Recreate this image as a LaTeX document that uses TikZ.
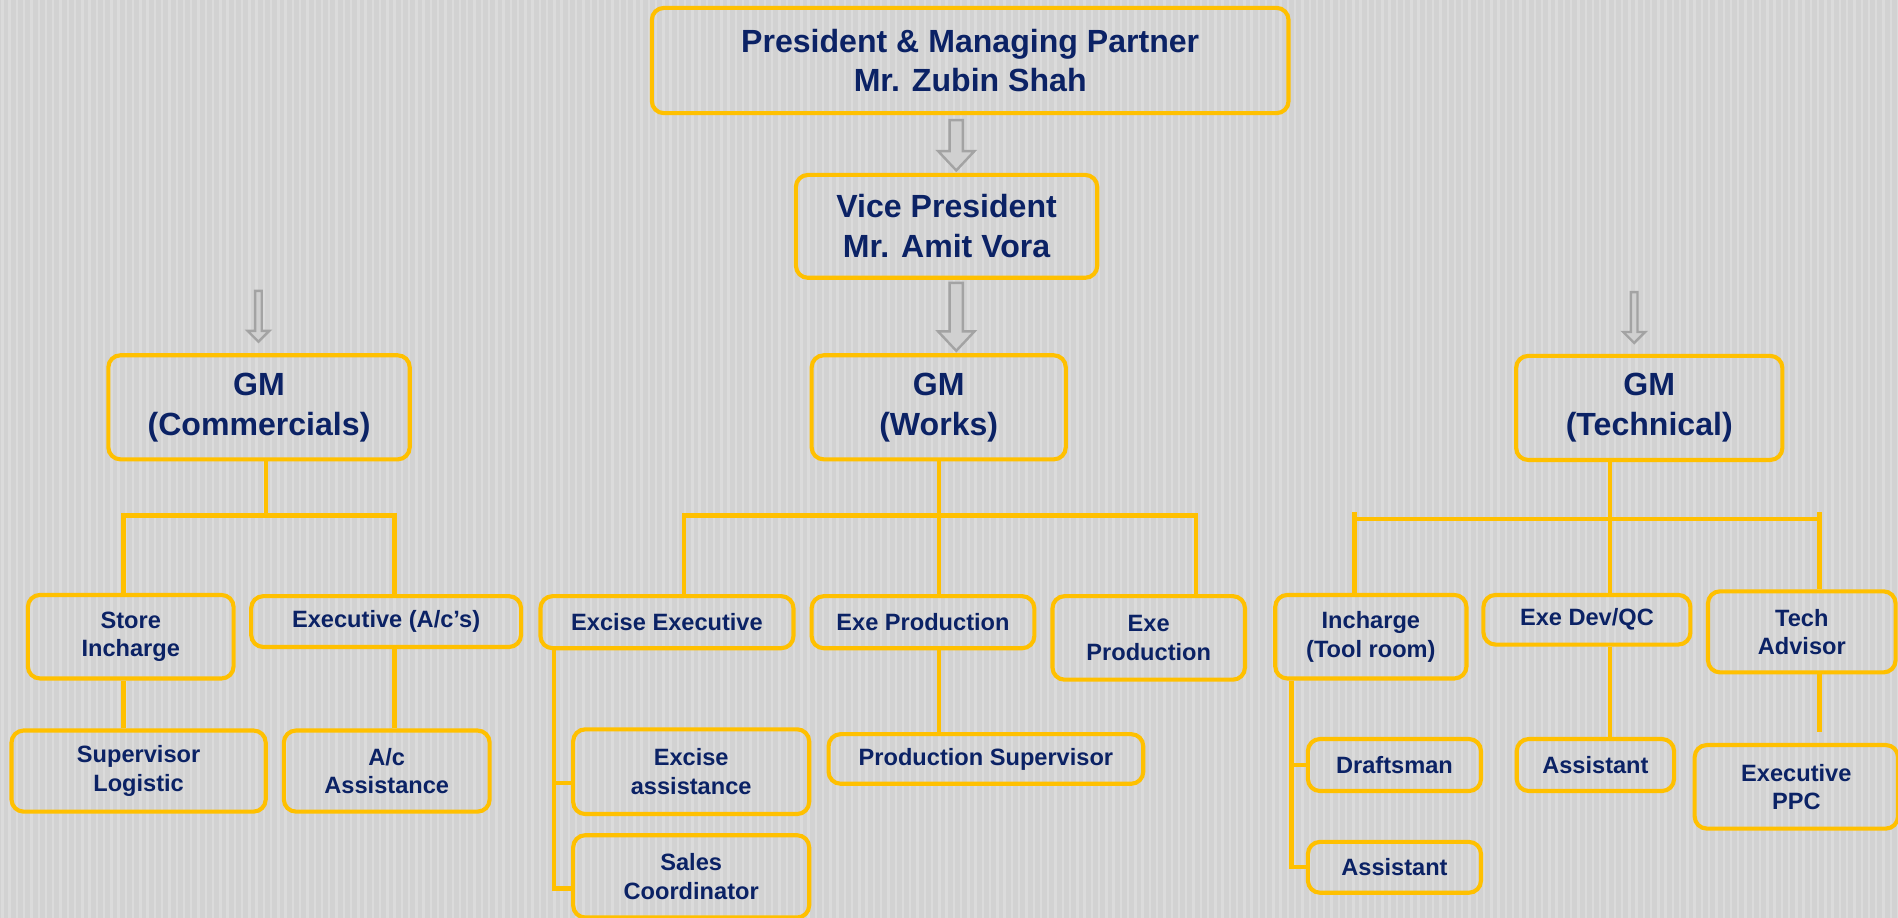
\documentclass[tikz,border=0pt]{standalone}
\usepackage{fontspec}
\setmainfont{Liberation Sans}
\usetikzlibrary{calc}
\definecolor{gold}{HTML}{FFC000}
\definecolor{navy}{HTML}{0B2265}
\definecolor{bgbase}{HTML}{D2D2D2}
\definecolor{bgline}{HTML}{DBDBDB}
\definecolor{arrline}{HTML}{A3A3A3}
\definecolor{arrfill}{HTML}{D0D0D0}
\tikzset{
  orgbox/.style={draw=gold, line width=3.4pt, rounded corners=10pt, inner sep=0pt,
    align=center, text=navy},
  bigbox/.style={orgbox, font=\fontsize{26.5}{33}\selectfont\bfseries},
  smallbox/.style={orgbox, font=\fontsize{19.5}{23.5}\selectfont\bfseries},
  conn/.style={draw=gold, line width=3.6pt},
  barrow/.style={draw=arrline, fill=arrfill, line width=2pt, line join=miter},
}
% #1 start point, #2 tip point (only y used), #3 shaft half width, #4 head half width, #5 head length
\newcommand\blockarr[5]{%
  \draw[barrow] let \p1=(#1), \p2=(#2) in
    (\x1-#3,\y1) -- (\x1+#3,\y1) -- (\x1+#3,\y2+#5) -- (\x1+#4,\y2+#5) --
    (\x1,\y2) -- (\x1-#4,\y2+#5) -- (\x1-#3,\y2+#5) -- cycle;}
\begin{document}
\begin{tikzpicture}[x=1pt,y=-1pt]
\useasboundingbox (0,0) rectangle (1568,758);
\clip (0,0) rectangle (1568,758);
\fill[bgbase] (0,0) rectangle (1568,758);
\foreach \xx in {2,8,...,1568} \draw[bgline, line width=2pt] (\xx,0) -- (\xx,758);

% level 1-3
\node[bigbox, minimum width=526, minimum height=87] (top) at (801.5,50) {President \& Managing Partner\\Mr. Zubin Shah};
\node[bigbox, minimum width=249, minimum height=85] (vp) at (782,187) {Vice President\\Mr. Amit Vora};
\node[bigbox, minimum width=249, minimum height=86] (gmc) at (214,336.5) {GM\\(Commercials)};
\node[bigbox, minimum width=210, minimum height=86] (gmw) at (775.5,336.5) {GM\\(Works)};
\node[bigbox, minimum width=220, minimum height=86] (gmt) at (1362.5,337) {GM\\(Technical)};

% commercials
\node[smallbox, minimum width=170, minimum height=69] (store) at (108,526) {Store\\Incharge};
\node[smallbox, minimum width=223, minimum height=42] (execac) at (319,513.5) {Executive (A/c’s)};
\node[smallbox, minimum width=210, minimum height=67] (supl) at (114.5,637) {Supervisor\\Logistic};
\node[smallbox, minimum width=170, minimum height=67] (acass) at (319.5,637) {A/c\\Assistance};

% works
\node[smallbox, minimum width=209, minimum height=43] (excexec) at (551,514) {Excise Executive};
\node[smallbox, minimum width=184, minimum height=43] (exeprod) at (762.5,514) {Exe Production};
\node[smallbox, minimum width=159, minimum height=69] (exeprod2) at (949,527) {Exe\\Production};
\node[smallbox, minimum width=195, minimum height=70] (excass) at (571,637.5) {Excise\\assistance};
\node[smallbox, minimum width=195, minimum height=68] (salesco) at (571,724) {Sales\\Coordinator};
\node[smallbox, minimum width=260, minimum height=41] (prodsup) at (814.5,627) {Production Supervisor};

% technical
\node[smallbox, minimum width=158, minimum height=69] (incharge) at (1132.5,526) {Incharge\\(Tool room)};
\node[smallbox, minimum width=171, minimum height=41] (exedev) at (1311,512) {Exe Dev/QC};
\node[smallbox, minimum width=155, minimum height=67] (techadv) at (1488.5,522) {Tech\\Advisor};
\node[smallbox, minimum width=143, minimum height=43] (draft) at (1152,632) {Draftsman};
\node[smallbox, minimum width=143, minimum height=42] (asst1) at (1152,716.5) {Assistant};
\node[smallbox, minimum width=130, minimum height=43] (asst2) at (1318,632) {Assistant};
\node[smallbox, minimum width=168, minimum height=69] (ppc) at (1484,650) {Executive\\PPC};

% block arrows
\blockarr{[xshift=-11.5pt,yshift=-4pt]top.south}{[yshift=2pt]vp.north}{5.5}{15}{16}
\blockarr{[xshift=8pt,yshift=-2.5pt]vp.south}{[yshift=2pt]gmw.north}{5.5}{15}{16}
\blockarr{[xshift=-0.5pt,yshift=51.5pt]gmc.north}{[yshift=9.5pt]gmc.north}{2.75}{9}{9}
\blockarr{[xshift=-12.5pt,yshift=51pt]gmt.north}{[yshift=9pt]gmt.north}{2.75}{9}{9}

% commercials connectors
\coordinate (jc) at (220,426);
\coordinate (cs) at ([xshift=-6pt]store.north);
\coordinate (ce) at ([xshift=7pt]execac.north);
\draw[conn] (jc |- gmc.south) -- (jc);
\draw[conn] (cs) |- (ce |- jc) -- (ce);
\draw[conn] (cs |- store.south) -- (cs |- supl.north);
\draw[conn] (ce |- execac.south) -- (ce |- acass.north);

% works connectors
\coordinate (jw) at (775.5,426);
\coordinate (we) at ([xshift=14pt]excexec.north);
\coordinate (wp) at ([xshift=39pt]exeprod2.north);
\draw[conn] (gmw.south) -- (jw |- exeprod.north);
\draw[conn] (we) |- (wp |- jw) -- (wp);
\draw[conn] (jw |- exeprod.south) -- (jw |- prodsup.north);
\coordinate (eb) at ([xshift=13pt]excexec.south west);
\coordinate (ea) at ([yshift=-9.5pt]excass.west);
\coordinate (es) at ([yshift=-10pt]salesco.west);
\draw[conn] (eb) |- (es);
\draw[conn] (eb |- ea) -- (ea);

% technical connectors
\coordinate (jt) at (1330,429);
\coordinate (ti) at ([xshift=-13.5pt]incharge.north);
\coordinate (tt) at ([xshift=14.5pt]techadv.north);
\coordinate (jtl) at (ti |- jt);
\coordinate (jtr) at (tt |- jt);
\draw[conn] (jt |- gmt.south) -- (jt |- exedev.north);
\draw[conn] (jtl) -- (jtr);
\draw[conn] ([yshift=6pt]jtl) -- (ti);
\draw[conn] ([yshift=6pt]jtr) -- (tt);
\draw[conn] (jt |- exedev.south) -- (jt |- asst2.north);
\coordinate (ib) at ([xshift=15pt]incharge.south west);
\draw[conn] (ib) |- (asst1.west);
\draw[conn] (ib |- draft.west) -- (draft.west);
\coordinate (pp) at ([yshift=9pt]ppc.north);
\draw[conn] (tt |- techadv.south) -- (tt |- pp);
\end{tikzpicture}
\end{document}
